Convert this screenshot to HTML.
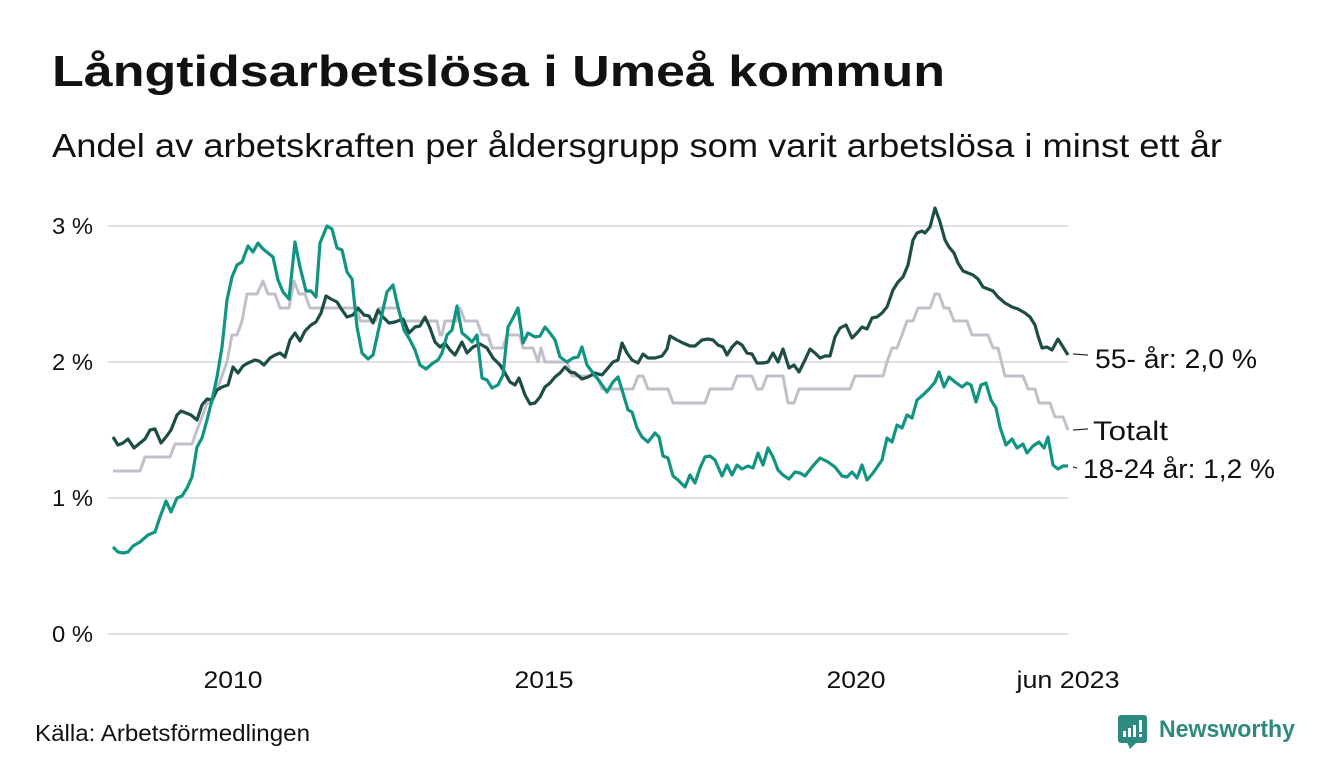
<!DOCTYPE html>
<html>
<head>
<meta charset="utf-8">
<style>
html,body{margin:0;padding:0;background:#fff;}
svg{display:block;}
text{font-family:"Liberation Sans",sans-serif;}
</style>
</head>
<body>
<svg width="1340" height="780" viewBox="0 0 1340 780" xmlns="http://www.w3.org/2000/svg">
<rect x="0" y="0" width="1340" height="780" fill="#ffffff"/>

<!-- Title & subtitle -->
<text x="52" y="86" font-size="44" font-weight="bold" fill="#111" textLength="893" lengthAdjust="spacingAndGlyphs">Långtidsarbetslösa i Umeå kommun</text>
<text x="52" y="157" font-size="33" fill="#111" textLength="1170" lengthAdjust="spacingAndGlyphs">Andel av arbetskraften per åldersgrupp som varit arbetslösa i minst ett år</text>

<!-- Gridlines -->
<g stroke="#e0dfe5" stroke-width="2">
<line x1="108" y1="226" x2="1068" y2="226"/>
<line x1="108" y1="362" x2="1068" y2="362"/>
<line x1="108" y1="498" x2="1068" y2="498"/>
<line x1="108" y1="634" x2="1068" y2="634"/>
</g>

<!-- Y labels -->
<g font-size="23" fill="#111" text-anchor="end">
<text x="93" y="234" textLength="41" lengthAdjust="spacingAndGlyphs">3 %</text>
<text x="93" y="370" textLength="41" lengthAdjust="spacingAndGlyphs">2 %</text>
<text x="93" y="506" textLength="41" lengthAdjust="spacingAndGlyphs">1 %</text>
<text x="93" y="642" textLength="41" lengthAdjust="spacingAndGlyphs">0 %</text>
</g>

<!-- X labels -->
<g font-size="24" fill="#111" text-anchor="middle">
<text x="233" y="688" textLength="59" lengthAdjust="spacingAndGlyphs">2010</text>
<text x="544" y="688" textLength="59" lengthAdjust="spacingAndGlyphs">2015</text>
<text x="856" y="688" textLength="59" lengthAdjust="spacingAndGlyphs">2020</text>
<text x="1068" y="688" textLength="103" lengthAdjust="spacingAndGlyphs">jun 2023</text>
</g>

<!-- Totalt (gray) -->
<polyline fill="none" stroke="#c2bfcb" stroke-width="3" stroke-linejoin="round" points="113,471 140,471 145,457 170,457 175,444 192,444 197,430 202,417 207,403 212,403 217,389 222,376 227,362 232,335 237,335 242,321 247,294 257,294 263,281 268,294 275,294 280,308 289,308 294,281 299,294 305,294 310,308 357,308 360,321 376,321 379,308 398,308 402,321 437,321 440,335 442,335 445,321 457,321 460,308 465,321 477,321 482,335 488,335 492,348 503,348 507,335 520,335 523,348 533,348 538,362 541,348 545,362 567,362 572,376 597,376 602,389 633,389 638,376 643,376 648,389 668,389 673,403 705,403 710,389 732,389 737,376 752,376 757,389 762,389 767,376 783,376 788,403 794,403 799,389 850,389 855,376 883,376 887,362 892,348 897,348 902,335 907,321 913,321 918,308 930,308 935,294 939,294 944,308 949,308 954,321 967,321 972,335 988,335 993,348 998,348 1005,376 1023,376 1028,389 1035,389 1039,403 1050,403 1055,417 1063,417 1068,430"/>

<!-- 55- (dark) -->
<polyline fill="none" stroke="#1e4d45" stroke-width="3.2" stroke-linejoin="round" points="113,437 118,445 123,443 128,439 134,448 140,443 145,439 150,430 155,429 161,443 166,437 171,430 177,415 181,411 186,413 191,415 197,420 202,405 207,399 212,400 217,390 222,387 228,385 233,367 238,373 243,366 248,363 255,360 259,361 264,365 270,358 275,355 280,353 285,357 290,340 295,333 300,341 305,331 311,325 316,322 321,313 326,296 331,299 337,302 342,310 347,317 353,315 358,308 364,315 369,316 373,323 378,310 383,317 389,323 395,322 403,319 409,333 415,327 420,326 425,317 430,328 435,342 440,347 445,343 450,350 455,355 462,342 467,353 473,347 480,344 487,348 493,358 500,365 505,373 510,382 515,385 519,378 525,395 530,404 535,403 540,397 545,387 550,383 555,377 560,373 565,367 570,372 575,373 582,379 588,377 595,373 602,375 608,368 613,362 618,360 622,343 627,353 632,360 638,363 643,354 648,358 655,358 662,356 667,349 670,336 677,340 683,343 690,346 695,346 702,340 708,339 713,340 718,345 723,347 727,355 732,347 737,342 742,345 747,353 752,354 757,363 763,363 768,362 773,353 778,362 783,349 789,368 794,365 799,372 805,360 810,349 815,353 820,358 825,356 830,356 835,337 840,328 846,325 852,338 857,333 862,327 867,329 872,318 877,317 882,313 887,307 893,290 898,282 903,277 908,265 913,240 917,233 922,231 925,233 930,227 935,208 940,222 945,240 949,247 954,253 958,263 963,271 968,273 973,275 978,279 983,287 988,289 993,291 998,297 1005,303 1012,307 1018,309 1025,313 1030,317 1035,325 1038,336 1042,348 1047,347 1052,350 1058,339 1063,347 1068,355"/>

<!-- 18-24 (teal) -->
<polyline fill="none" stroke="#119482" stroke-width="3.2" stroke-linejoin="round" points="113,547 118,552 123,553 128,552 133,546 140,542 148,535 155,532 160,517 166,501 171,512 177,498 182,496 187,488 192,477 197,447 202,438 207,420 212,400 217,377 222,347 227,300 232,277 237,265 242,262 248,246 253,252 258,243 263,249 268,253 273,257 278,280 283,292 289,299 295,242 300,267 306,291 311,291 316,297 320,243 327,226 332,229 337,248 342,250 347,272 352,279 357,327 362,353 368,359 373,355 380,323 387,292 393,285 398,307 404,330 410,340 415,350 420,365 426,369 433,363 438,360 442,353 447,335 452,330 457,306 462,333 467,337 472,342 477,335 482,378 487,380 492,388 498,385 503,375 508,327 513,318 518,308 523,343 528,333 535,337 540,336 545,327 550,333 555,340 560,357 567,362 573,358 578,357 582,347 587,365 593,373 600,382 607,392 613,382 618,377 623,393 628,410 632,412 637,428 642,437 648,442 655,433 659,437 663,456 668,458 673,476 678,480 685,487 690,475 695,483 700,468 705,457 710,456 715,460 722,476 727,465 732,475 737,465 742,469 748,466 753,468 758,453 763,465 768,448 773,457 778,470 783,475 789,479 795,472 800,473 805,476 812,467 820,458 828,462 835,467 842,476 847,477 852,472 857,478 862,465 867,480 873,473 882,460 887,438 892,442 897,425 902,428 907,415 912,418 917,400 923,395 930,388 935,382 939,372 944,387 949,377 955,382 962,387 967,383 971,385 976,402 981,385 986,383 991,400 996,408 1000,427 1006,445 1012,439 1017,448 1023,444 1027,453 1033,446 1039,442 1044,448 1048,437 1053,465 1058,469 1063,466 1068,466"/>

<!-- Connectors -->
<g stroke="#333" stroke-width="1.2">
<line x1="1073" y1="354" x2="1088" y2="355"/>
<line x1="1073" y1="430" x2="1088" y2="429"/>
<line x1="1073" y1="467" x2="1077" y2="468"/>
</g>

<!-- End labels -->
<g font-size="27" fill="#111">
<text x="1095" y="368" textLength="162" lengthAdjust="spacingAndGlyphs">55- år: 2,0 %</text>
<text x="1093" y="440" textLength="75" lengthAdjust="spacingAndGlyphs">Totalt</text>
<text x="1083" y="478" textLength="192" lengthAdjust="spacingAndGlyphs">18-24 år: 1,2 %</text>
</g>

<!-- Source -->
<text x="35" y="741" font-size="23" fill="#111" textLength="275" lengthAdjust="spacingAndGlyphs">Källa: Arbetsförmedlingen</text>

<!-- Logo -->
<g>
<rect x="1118" y="715" width="29" height="28" rx="3" fill="#2e8a7f"/>
<polygon points="1127,742 1137,742 1130,749" fill="#2e8a7f"/>
<rect x="1123" y="731" width="3" height="6" fill="#fff"/>
<rect x="1128" y="728" width="3" height="9" fill="#fff"/>
<rect x="1133" y="725" width="3" height="12" fill="#fff"/>
<rect x="1139" y="720" width="3" height="12" fill="#fff"/>
<rect x="1139" y="734" width="3" height="3" fill="#fff"/>
</g>
<text x="1159" y="737" font-size="24" font-weight="bold" fill="#2e8a7f" textLength="136" lengthAdjust="spacingAndGlyphs">Newsworthy</text>
</svg>
</body>
</html>
